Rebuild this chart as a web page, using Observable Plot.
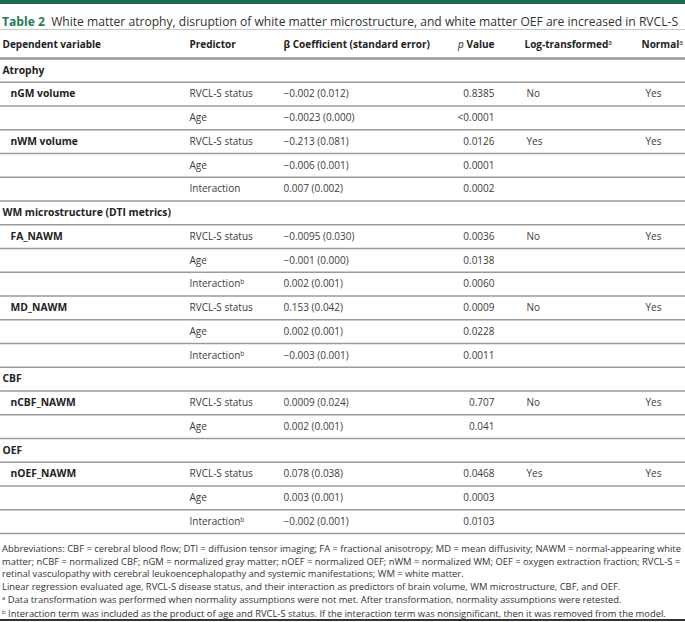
<!DOCTYPE html>
<html><head><meta charset="utf-8">
<script src="https://cdn.jsdelivr.net/npm/d3@7"></script>
<script src="https://cdn.jsdelivr.net/npm/@observablehq/plot@0.6"></script>
<style>
html,body{margin:0;padding:0;background:#fff;}
#page{position:relative;width:685px;height:622px;overflow:hidden;font-family:'Open Sans',sans-serif;}
#bar{position:absolute;left:0;top:0;width:685px;height:4px;background:#1d6a4c;}
#title{position:absolute;left:2px;top:13px;font-size:12.1px;line-height:18px;white-space:nowrap;color:#333;}
#title b{color:#1e7b55;font-weight:700;}
#chart{position:absolute;left:0;top:28px;}
#notes{position:absolute;left:2px;top:543px;font-size:9.4px;line-height:12.7px;color:#333;white-space:nowrap;}
#notes sup{font-size:6px;vertical-align:0;position:relative;top:-3px;}
#bottom{position:absolute;left:0;top:619px;width:685px;height:2px;background:#333;}
</style></head>
<body>
<div id="page">
  <div id="bar"></div>
  <div id="title"><b>Table 2</b>&nbsp; White matter atrophy, disruption of white matter microstructure, and white matter OEF are increased in RVCL-S</div>
  <div id="chart"></div>
  <div id="notes">
    Abbreviations: CBF = cerebral blood flow; DTI = diffusion tensor imaging; FA = fractional anisotropy; MD = mean diffusivity; NAWM = normal-appearing white<br>
    matter; nCBF = normalized CBF; nGM = normalized gray matter; nOEF = normalized OEF; nWM = normalized WM; OEF = oxygen extraction fraction; RVCL-S =<br>
    retinal vasculopathy with cerebral leukoencephalopathy and systemic manifestations; WM = white matter.<br>
    Linear regression evaluated age, RVCL-S disease status, and their interaction as predictors of brain volume, WM microstructure, CBF, and OEF.<br>
    <sup>a</sup> Data transformation was performed when normality assumptions were not met. After transformation, normality assumptions were retested.<br>
    <sup>b</sup> Interaction term was included as the product of age and RVCL-S status. If the interaction term was nonsignificant, then it was removed from the model.
  </div>
  <div id="bottom"></div>
</div>
<script>
// ---- data ----
const headers = ["Dependent variable", "Predictor", "β Coefficient (standard error)", "p Value", "Log-transformed^a", "Normal^a"];
const dependent = ["Atrophy", "nGM volume", "", "nWM volume", "", "", "WM microstructure (DTI metrics)", "FA_NAWM", "", "", "MD_NAWM", "", "", "CBF", "nCBF_NAWM", "", "OEF", "nOEF_NAWM", "", ""];
const predictor = ["", "RVCL-S status", "Age", "RVCL-S status", "Age", "Interaction", "", "RVCL-S status", "Age", "Interaction^b", "RVCL-S status", "Age", "Interaction^b", "", "RVCL-S status", "Age", "", "RVCL-S status", "Age", "Interaction^b"];
const beta = ["", "−0.002 (0.012)", "−0.0023 (0.000)", "−0.213 (0.081)", "−0.006 (0.001)", "0.007 (0.002)", "", "−0.0095 (0.030)", "−0.001 (0.000)", "0.002 (0.001)", "0.153 (0.042)", "0.002 (0.001)", "−0.003 (0.001)", "", "0.0009 (0.024)", "0.002 (0.001)", "", "0.078 (0.038)", "0.003 (0.001)", "−0.002 (0.001)"];
const pValue = ["", "0.8385", "<0.0001", "0.0126", "0.0001", "0.0002", "", "0.0036", "0.0138", "0.0060", "0.0009", "0.0228", "0.0011", "", "0.707", "0.041", "", "0.0468", "0.0003", "0.0103"];
const logTransformed = ["", "No", "", "Yes", "", "", "", "No", "", "", "No", "", "", "", "No", "", "", "Yes", "", ""];
const normal = ["", "Yes", "", "Yes", "", "", "", "Yes", "", "", "Yes", "", "", "", "Yes", "", "", "Yes", "", ""];

// ---- layout (styling only) ----
const W = 685, H = 508;
const headerSpan = 1.224;           // header row height in row units
const colX = [2, 189, 283, 494, 526, 645];   // column anchors
const headX = [2, 189, 283, 494, 524, 641];
const indentX = 10;
const nRows = dependent.length;

// ---- build cells ----
const headCells = headers.map((t, i) => ({x: headX[i], y: -0.59, text: t, end: i === 3}));
const bodyCols = [predictor, beta, pValue, logTransformed, normal];
const bold = [], reg = [], regEnd = [];
dependent.forEach((t, r) => {
  if (!t) return;
  const section = predictor[r] === "";
  bold.push({x: section ? colX[0] : indentX, y: r + 0.5, text: t});
});
bodyCols.forEach((col, c) => {
  col.forEach((t, r) => {
    if (!t) return;
    const cell = {x: colX[c + 1], y: r + 0.5, text: t};
    (c === 2 ? regEnd : reg).push(cell);
  });
});
const rowLines = d3.range(1, nRows + 1);

const svg = Plot.plot({
  width: W, height: H,
  margin: 0,
  x: {domain: [0, W], range: [0, W], axis: null},
  y: {domain: [-headerSpan, nRows], range: [1, 505], axis: null},
  style: {fontFamily: "'Open Sans', sans-serif", fontSize: "10px", background: "transparent", overflow: "visible"},
  marks: [
    Plot.ruleY([-headerSpan], {stroke: "#bfcfc7", strokeWidth: 1}),
    Plot.ruleY([0], {stroke: "#9a9a9a", strokeWidth: 2.5}),
    Plot.ruleY(rowLines, {stroke: "#9a9a9a", strokeWidth: 1.4}),
    Plot.text(headCells.filter(d => !d.end), {x: "x", y: "y", text: "text", textAnchor: "start", fontWeight: 700, fontSize: 10, fill: "#222"}),
    Plot.text(headCells.filter(d => d.end), {x: "x", y: "y", text: "text", textAnchor: "end", fontWeight: 700, fontSize: 10, fill: "#222"}),
    Plot.text(bold, {x: "x", y: "y", text: "text", textAnchor: "start", fontWeight: 700, fontSize: 10.3, fill: "#222"}),
    Plot.text(reg, {x: "x", y: "y", text: "text", textAnchor: "start", fill: "#3c3c3c"}),
    Plot.text(regEnd, {x: "x", y: "y", text: "text", textAnchor: "end", fill: "#3c3c3c"})
  ]
});

// superscripts and italic p
d3.select(svg).selectAll("text").each(function () {
  const t = this.textContent;
  const m = t.match(/^(.*)\^([ab])$/);
  if (m) {
    this.textContent = m[1];
    d3.select(this).append("tspan").attr("dy", "-0.45em").attr("font-size", "6.5px").attr("font-weight", 400).text(m[2]);
  } else if (t === "p Value") {
    this.textContent = "";
    d3.select(this).append("tspan").attr("font-style", "italic").attr("font-weight", 400).text("p");
    d3.select(this).append("tspan").text(" Value");
  }
});
document.getElementById("chart").appendChild(svg);
</script>
</body></html>
